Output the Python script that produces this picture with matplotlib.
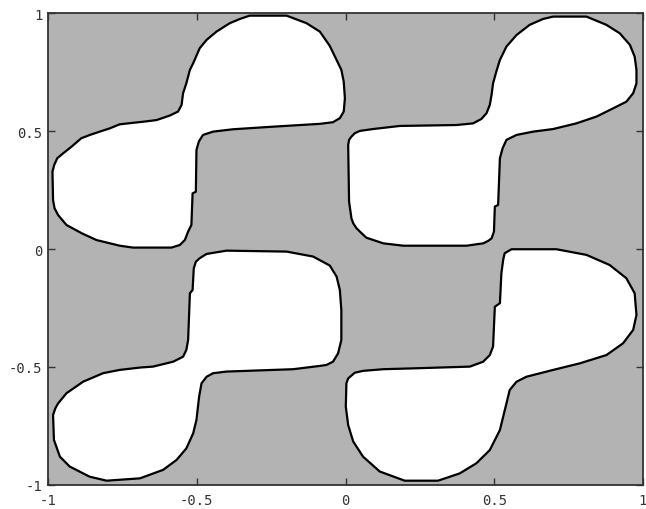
import matplotlib
matplotlib.use("Agg")
import matplotlib.pyplot as plt
from matplotlib.patches import Polygon
from matplotlib.ticker import FuncFormatter

# outlines of the four white regions (x, y), traced clockwise
blob_top_left_x = [-0.322, -0.198, -0.131, -0.086, -0.053, -0.030, -0.014, -0.006, -0.002,
                   -0.006, -0.019, -0.042, -0.086, -0.243, -0.378, -0.445, -0.479, -0.493,
                   -0.501, -0.503, -0.514, -0.518, -0.529, -0.540, -0.557, -0.585, -0.714,
                   -0.759, -0.837, -0.887, -0.938, -0.966, -0.978, -0.983, -0.985, -0.979,
                   -0.969, -0.949, -0.921, -0.888, -0.859, -0.826, -0.792, -0.759, -0.680,
                   -0.635, -0.591, -0.563, -0.551, -0.546, -0.535, -0.523, -0.512, -0.490,
                   -0.467, -0.434, -0.389, -0.355]
blob_top_left_y = [0.990, 0.990, 0.958, 0.922, 0.862, 0.802, 0.760, 0.710, 0.639,
                   0.583, 0.555, 0.538, 0.531, 0.519, 0.508, 0.498, 0.484, 0.456,
                   0.420, 0.243, 0.236, 0.102, 0.074, 0.038, 0.017, 0.006, 0.006,
                   0.014, 0.038, 0.067, 0.102, 0.144, 0.173, 0.208, 0.328, 0.357,
                   0.385, 0.406, 0.434, 0.470, 0.484, 0.498, 0.512, 0.529, 0.540,
                   0.547, 0.566, 0.583, 0.611, 0.661, 0.703, 0.760, 0.788, 0.852,
                   0.887, 0.922, 0.958, 0.976]

blob_top_right_x = [0.698, 0.810, 0.877, 0.922, 0.956, 0.972, 0.978, 0.978, 0.967, 0.944,
                    0.900, 0.844, 0.776, 0.698, 0.631, 0.575, 0.541, 0.528, 0.519, 0.513,
                    0.502, 0.499, 0.491, 0.479, 0.463, 0.407, 0.194, 0.127, 0.070, 0.054,
                    0.037, 0.026, 0.020, 0.012, 0.009, 0.012, 0.020, 0.031, 0.048, 0.093,
                    0.182, 0.373, 0.429, 0.457, 0.474, 0.485, 0.491, 0.496, 0.507, 0.519,
                    0.541, 0.575, 0.619, 0.664]
blob_top_right_y = [0.986, 0.986, 0.951, 0.915, 0.866, 0.816, 0.760, 0.703, 0.661, 0.625,
                    0.597, 0.562, 0.533, 0.509, 0.498, 0.484, 0.463, 0.427, 0.385, 0.187,
                    0.180, 0.074, 0.045, 0.034, 0.024, 0.014, 0.014, 0.024, 0.048, 0.067,
                    0.088, 0.109, 0.130, 0.201, 0.441, 0.463, 0.477, 0.491, 0.501, 0.509,
                    0.522, 0.526, 0.533, 0.552, 0.576, 0.611, 0.654, 0.703, 0.753, 0.802,
                    0.859, 0.908, 0.951, 0.976]

blob_bottom_left_x = [-0.490, -0.467, -0.400, -0.198, -0.109, -0.053, -0.030, -0.019, -0.014,
                      -0.014, -0.025, -0.042, -0.064, -0.086, -0.176, -0.400, -0.445, -0.467,
                      -0.484, -0.492, -0.501, -0.512, -0.535, -0.568, -0.613, -0.691, -0.803,
                      -0.860, -0.927, -0.960, -0.980, -0.983, -0.975, -0.966, -0.938, -0.882,
                      -0.815, -0.759, -0.691, -0.647, -0.579, -0.546, -0.535, -0.529, -0.523,
                      -0.514, -0.510, -0.503]
blob_bottom_left_y = [-0.039, -0.021, -0.007, -0.011, -0.032, -0.070, -0.117, -0.174, -0.259,
                      -0.386, -0.443, -0.478, -0.492, -0.496, -0.510, -0.520, -0.527, -0.542,
                      -0.570, -0.626, -0.725, -0.782, -0.846, -0.895, -0.937, -0.973, -0.983,
                      -0.966, -0.923, -0.881, -0.810, -0.704, -0.675, -0.655, -0.612, -0.563,
                      -0.527, -0.513, -0.503, -0.499, -0.478, -0.457, -0.428, -0.386, -0.188,
                      -0.174, -0.082, -0.054]

blob_bottom_right_x = [0.535, 0.558, 0.709, 0.810, 0.888, 0.944, 0.972, 0.978, 0.967, 0.933,
                       0.877, 0.788, 0.698, 0.608, 0.575, 0.552, 0.541, 0.519, 0.485, 0.440,
                       0.384, 0.311, 0.199, 0.115, 0.059, 0.026, 0.009, 0.001, 0.003, 0.009,
                       0.031, 0.059, 0.127, 0.239, 0.418, 0.463, 0.485, 0.496, 0.502, 0.519,
                       0.524, 0.530]
blob_bottom_right_y = [-0.018, -0.001, -0.001, -0.025, -0.068, -0.124, -0.188, -0.280, -0.343, -0.400,
                       -0.450, -0.485, -0.513, -0.542, -0.563, -0.598, -0.655, -0.768, -0.853, -0.909,
                       -0.952, -0.983, -0.983, -0.944, -0.881, -0.817, -0.747, -0.669, -0.570, -0.549,
                       -0.525, -0.517, -0.510, -0.506, -0.499, -0.478, -0.450, -0.414, -0.245, -0.230,
                       -0.103, -0.046]

blobs = [
    (blob_top_left_x, blob_top_left_y),
    (blob_top_right_x, blob_top_right_y),
    (blob_bottom_left_x, blob_bottom_left_y),
    (blob_bottom_right_x, blob_bottom_right_y),
]

ticks = [-1, -0.5, 0, 0.5, 1]

fig = plt.figure(figsize=(6.46, 5.10), dpi=100)
ax = fig.add_axes([48 / 646, 24.3 / 510, 595 / 646, 471.4 / 510])
ax.set_facecolor("#b3b3b3")

for bx, by in blobs:
    ax.add_patch(Polygon(list(zip(bx, by)), closed=True, facecolor="white",
                         edgecolor="black", linewidth=1.6, joinstyle="round"))

ax.set_xlim(-1, 1)
ax.set_ylim(-1, 1)
ax.set_xticks(ticks)
ax.set_yticks(ticks)

# plain hyphen for the minus sign
fmt = FuncFormatter(lambda v, pos: ("%g" % v))
ax.xaxis.set_major_formatter(fmt)
ax.yaxis.set_major_formatter(fmt)

ax.tick_params(direction="in", length=5, width=1, color="#333333",
               top=True, right=True, labelsize=10, labelcolor="#333333")
ax.tick_params(axis="x", pad=6)
ax.tick_params(axis="y", pad=4)
for lab in ax.get_xticklabels() + ax.get_yticklabels():
    lab.set_family("DejaVu Sans Mono")

for s in ax.spines.values():
    s.set_color("#333333")
    s.set_linewidth(1.3)

fig.savefig("out.png", dpi=100)
